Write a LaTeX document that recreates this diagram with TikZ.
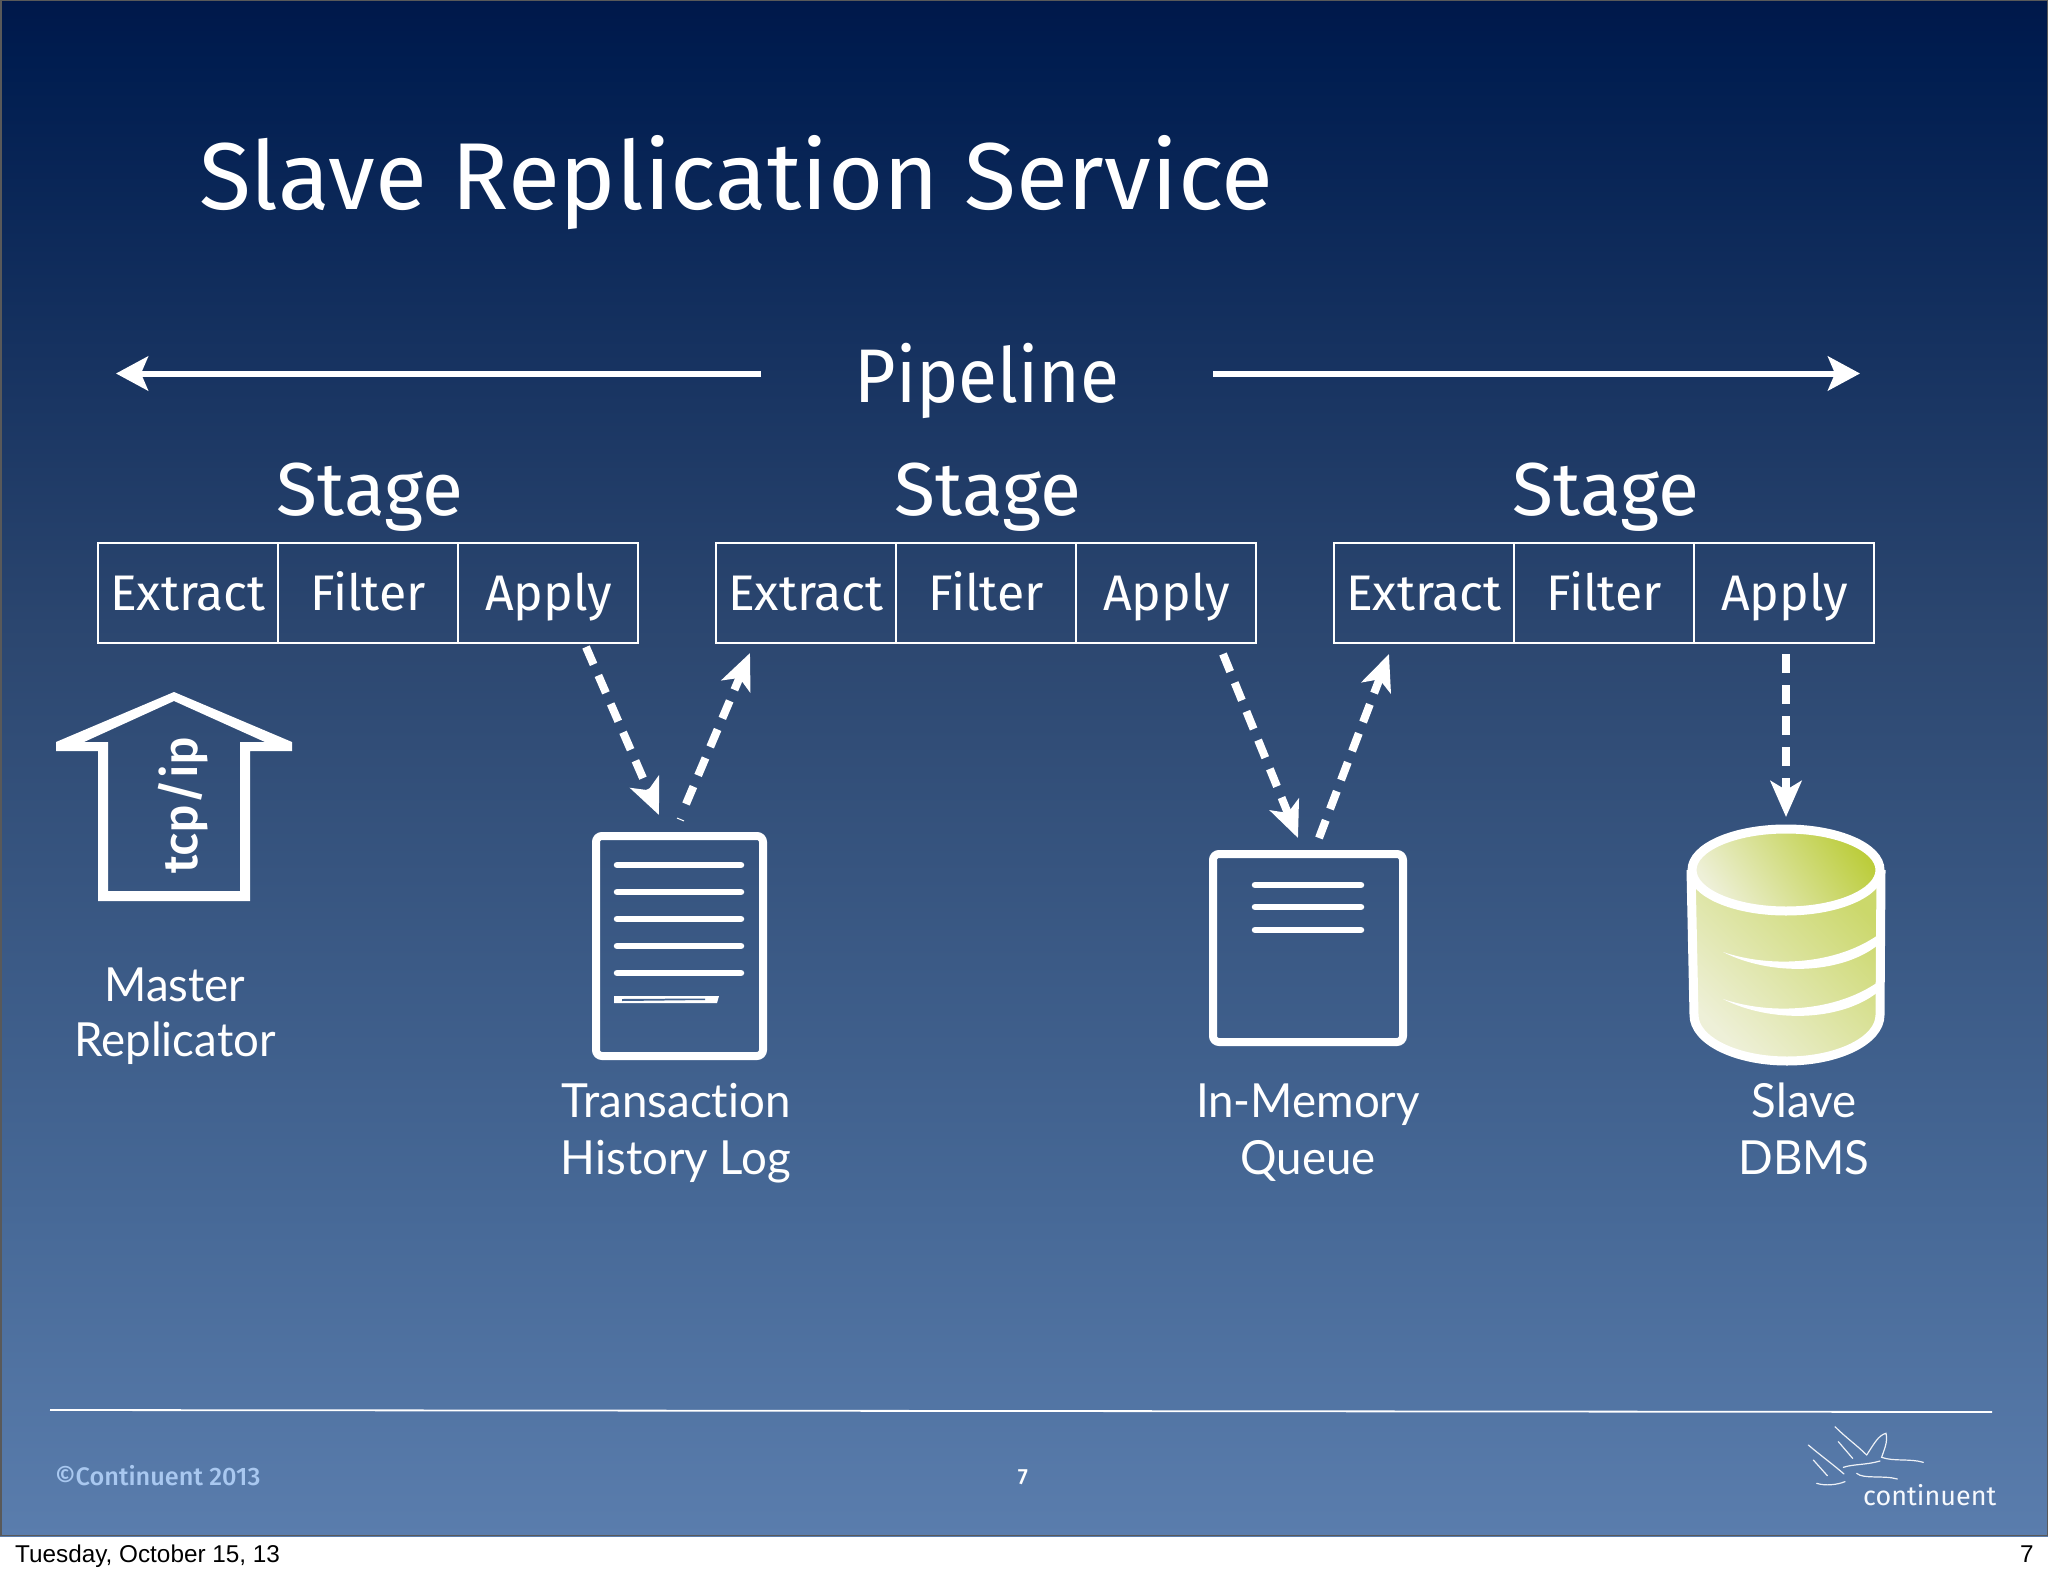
\documentclass[tikz,border=0pt]{standalone}
\usepackage{fontspec}
\setmainfont{Fira Sans}
\newfontfamily\gill[FakeStretch=0.97,Ligatures=NoCommon]{Lato}
\newfontfamily\firam{Fira Sans Medium}
\newfontfamily\firan[FakeStretch=0.94]{Fira Sans}
\newfontfamily\helv{Liberation Sans}
\usetikzlibrary{arrows.meta}
\definecolor{bgA}{HTML}{00184A}
\definecolor{bgB}{HTML}{001D50}
\definecolor{bgC}{HTML}{2C4770}
\definecolor{bgD}{HTML}{466896}
\definecolor{bgE}{HTML}{5A7DAD}
\definecolor{dbpale}{HTML}{EEF0D8}
\definecolor{dbstrong}{HTML}{BCCD3C}
\definecolor{copyc}{HTML}{A9C8F0}
\pgfdeclareverticalshading{slidebg}{100bp}{color(0bp)=(bgE); color(25bp)=(bgE); color(36bp)=(bgD); color(54.2bp)=(bgC); color(73bp)=(bgB); color(75bp)=(bgA); color(100bp)=(bgA)}
\newcommand{\fs}[1]{\fontsize{#1pt}{#1pt}\selectfont}
\tikzset{
  txt/.style={text=white,anchor=base,inner sep=0pt,align=center},
  cell/.style={draw=white,line width=2pt,minimum width=180pt,minimum height=100pt,inner sep=0pt,outer sep=0pt},
  celltxt/.style={txt,font=\fs{50}},
  stage/.style={txt,font=\fs{75}},
  lab/.style={txt,font=\gill\fs{47}},
  flow/.style={draw=white,line width=8pt,dash pattern=on 19pt off 12pt,-{Stealth[length=36pt,width=31pt,inset=9pt]}},
  span/.style={draw=white,line width=6pt,-{Stealth[length=32pt,width=34pt,inset=7pt]}},
  doc/.style={draw=white,line width=8pt,rounded corners=6pt,inner sep=0pt,outer sep=0pt},
  docline/.style={draw=white,line width=6.5pt,line cap=round},
  swan/.style={draw=white,line width=1.2pt,line cap=round,opacity=.9}
}
\begin{document}
\begin{tikzpicture}[x=1pt,y=-1pt]
\useasboundingbox (0,0) rectangle (2048,1576);
\fill[white] (0,0) rectangle (2048,1576);
\shade[shading=slidebg] (0,0) rectangle (2048,1536);
\draw[draw=black!65,line width=1.5pt] (0.75,0.75) rectangle (2047.25,1535.25);

\node[txt,font=\fs{95},anchor=base west] (title) at (199,209) {Slave Replication Service};
\node[txt,font=\firan\fs{76}] (pipe) at (987,402) {Pipeline};
\coordinate (pl1) at (761,373.5); \coordinate (pl2) at (116,373.5);
\coordinate (pr1) at (1213,373.5); \coordinate (pr2) at (1860,373.5);
\draw[span] (pl1) -- (pl2);
\draw[span] (pr1) -- (pr2);

\foreach \n/\sx in {1/98,2/716,3/1334}{
  \node[cell,anchor=north west] (ex\n) at (\sx,542.5) {};
  \node[cell,anchor=north west] (fi\n) at (\sx+180,542.5) {};
  \node[cell,anchor=north west] (ap\n) at (\sx+360,542.5) {};
  \node[celltxt] (tex\n) at (\sx+90,610) {Extract};
  \node[celltxt] (tfi\n) at (\sx+270,610) {Filter};
  \node[celltxt] (tap\n) at (\sx+450.5,610) {Apply};
  \node[stage] (st\n) at (\sx+272,515) {Stage};
}

% tcp/ip arrow
\fill[white,even odd rule] (174,692) -- (56,742) -- (56,751) -- (98,751) -- (98,901) -- (250,901) -- (250,751) -- (292,751) -- (292,742) -- cycle
  (174,701) -- (84,742) -- (108,742) -- (108,891) -- (240,891) -- (240,742) -- (265,742) -- cycle;
\node[txt,font=\firam\fs{48.5},rotate=90] (tcp) at (197,805) {tcp/ip};
\node[lab] (m1) at (175,1001.5) {Master};
\node[lab] (m2) at (175,1056.5) {Replicator};

% transaction history log
\node[doc,minimum width=167pt,minimum height=220pt] (log) at (679.5,946) {};
\foreach \y in {865,892,919,946,973}{
  \coordinate (a) at (617,\y); \coordinate (b) at (741,\y);
  \draw[docline] (a) -- (b);
}
\fill[white] (614,996) -- (719,996) -- (717,1003) -- (614,1003) -- cycle;
\fill[bgD!80!bgC] (622,999) -- (705,998.5) -- (705,1000) -- (622,1001) -- cycle;
\node[lab] (t1) at (676,1117.5) {Transaction};
\node[lab] (t2) at (676,1174.5) {History Log};
\coordinate (tk1) at (677,818); \coordinate (tk2) at (684,821);
\draw[white,line width=1pt] (tk1) -- (tk2);

% queue
\node[doc,minimum width=190pt,minimum height=188pt] (queue) at (1308,948) {};
\foreach \y in {885,907,930}{
  \coordinate (a) at (1255,\y); \coordinate (b) at (1361,\y);
  \draw[docline] (a) -- (b);
}
\node[lab] (q1) at (1308,1117.5) {In-Memory};
\node[lab] (q2) at (1308,1174.5) {Queue};

% database
\coordinate (dbc) at (1786,870);
\path[left color=dbpale,right color=dbstrong!70!dbpale,shading angle=135]
  (1691,870) -- (1694,1015) arc[start angle=180,end angle=0,x radius=93,y radius=45] -- (1881,870) -- cycle;
\draw[white,line width=9pt,line join=round] (1691,870) -- (1694,1015) arc[start angle=180,end angle=0,x radius=93,y radius=46] -- (1881,870);
\path[left color=dbpale,right color=dbstrong,shading angle=125] (dbc) ellipse[x radius=94,y radius=41];
\draw[white,line width=9pt] (dbc) ellipse[x radius=94,y radius=41];
\fill[white] (1723,952) .. controls (1770,968) and (1835,965) .. (1878,935) -- (1878,945) .. controls (1840,975) and (1770,976) .. (1723,952) -- cycle;
\fill[white] (1723,999) .. controls (1770,1015) and (1835,1012) .. (1878,982) -- (1878,992) .. controls (1840,1022) and (1770,1023) .. (1723,999) -- cycle;
\node[lab] (d1) at (1804,1117.5) {Slave};
\node[lab] (d2) at (1804,1174.5) {DBMS};

% flows
\coordinate (f1a) at (586,647); \coordinate (f1b) at (659,815);
\coordinate (f2a) at (686,804); \coordinate (f2b) at (750,653);
\coordinate (f3a) at (1223,654); \coordinate (f3b) at (1298,838);
\coordinate (f4a) at (1319,838); \coordinate (f4b) at (1389,654);
\coordinate (f5a) at (1786,654); \coordinate (f5b) at (1786,817);
\draw[flow] (f1a) -- (f1b);
\draw[flow] (f2a) -- (f2b);
\draw[flow] (f3a) -- (f3b);
\draw[flow] (f4a) -- (f4b);
\draw[flow] (f5a) -- (f5b);

% footer
\coordinate (r1) at (50,1410); \coordinate (r2) at (1992,1412);
\draw[white,line width=1.8pt] (r1) -- (r2);
\node[txt,text=copyc,font=\firam\fs{25.3},anchor=base west] (copy) at (55,1485) {©Continuent 2013};
\node[txt,font=\firam\fs{22}] (num) at (1023,1484) {7};
\node[txt,text=white!90!copyc,font=\fs{27},anchor=base west] (cont) at (1863,1505) {continuent};
\begin{scope}[shift={(1700,1380)},x=0.3333pt,y=-0.3333pt]
  \draw[swan] (405,140) .. controls (440,175) and (470,195) .. (500,225);
  \draw[swan] (325,195) .. controls (360,225) and (395,250) .. (432,282);
  \draw[swan] (415,185) -- (458,235);
  \draw[swan] (340,240) -- (382,287);
  \draw[swan] (500,225) .. controls (520,195) and (535,165) .. (558,160) .. controls (565,185) and (550,215) .. (545,232) .. controls (580,245) and (630,235) .. (670,247);
  \draw[swan] (430,262) .. controls (460,252) and (500,255) .. (540,243);
  \draw[swan] (470,280) .. controls (490,298) and (550,285) .. (592,297);
  \draw[swan] (350,310) .. controls (375,318) and (410,315) .. (435,305);
\end{scope}
\node[txt,text=black,font=\helv\fs{24.3},anchor=base west] (date) at (15,1562) {Tuesday, October 15, 13};
\node[txt,text=black,font=\helv\fs{24.3},anchor=base west] (pg) at (2020,1562) {7};
\end{tikzpicture}
\end{document}
